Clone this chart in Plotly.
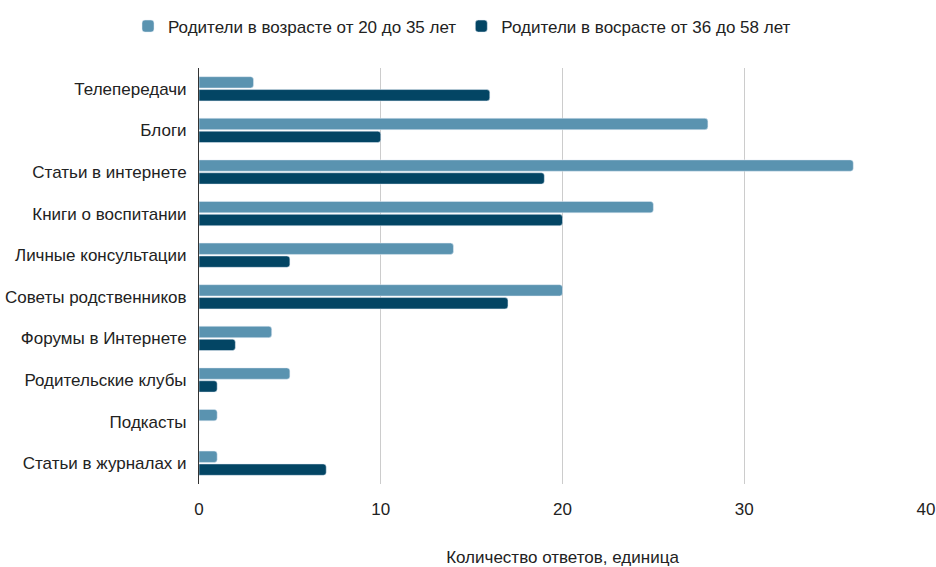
import plotly.graph_objects as go

categories = ["Телепередачи", "Блоги", "Статьи в интернете", "Книги о воспитании",
              "Личные консультации", "Советы родственников", "Форумы в Интернете",
              "Родительские клубы", "Подкасты", "Статьи в журналах и"]
young = [3, 28, 36, 25, 14, 20, 4, 5, 1, 1]
old = [16, 10, 19, 20, 5, 17, 2, 1, 0, 7]
series_names = ["Родители в возрасте от 20 до 35 лет", "Родители в восрасте от 36 до 58 лет"]
x_ticks = [0, 10, 20, 30, 40]

fig = go.Figure()
fig.add_trace(go.Bar(y=categories, x=young, orientation="h", name=series_names[0],
                     marker=dict(color="#5a93b0", cornerradius=3)))
fig.add_trace(go.Bar(y=categories, x=old, orientation="h", name=series_names[1],
                     marker=dict(color="#034564", cornerradius=3)))

fig.update_layout(
    width=936, height=567,
    margin=dict(l=199, r=10, t=68, b=83, autoexpand=False),
    paper_bgcolor="white", plot_bgcolor="white",
    font=dict(family="Liberation Sans, Arial, sans-serif", size=17, color="#222222"),
    barmode="group", bargap=0.38, bargroupgap=0.12,
    legend=dict(orientation="h", x=0.4936, xanchor="center", xref="container",
                y=0.985, yanchor="top", yref="container", font=dict(size=17),
                itemwidth=30),
    showlegend=True,
)
fig.update_xaxes(range=[0, 40], tickvals=x_ticks, showgrid=True, gridcolor="#cccccc",
                 gridwidth=1, zeroline=False, ticks="", ticklabelstandoff=13,
                 title=dict(text="Количество ответов, единица", standoff=34,
                            font=dict(size=17)))
fig.update_yaxes(autorange="reversed", showline=True, linecolor="#333333", linewidth=1,
                 ticks="", ticklabelstandoff=8, showgrid=False)

fig.write_html("out.html", config={"displayModeBar": False},
               post_script="document.body.style.margin='0';document.body.style.overflow='hidden';")
